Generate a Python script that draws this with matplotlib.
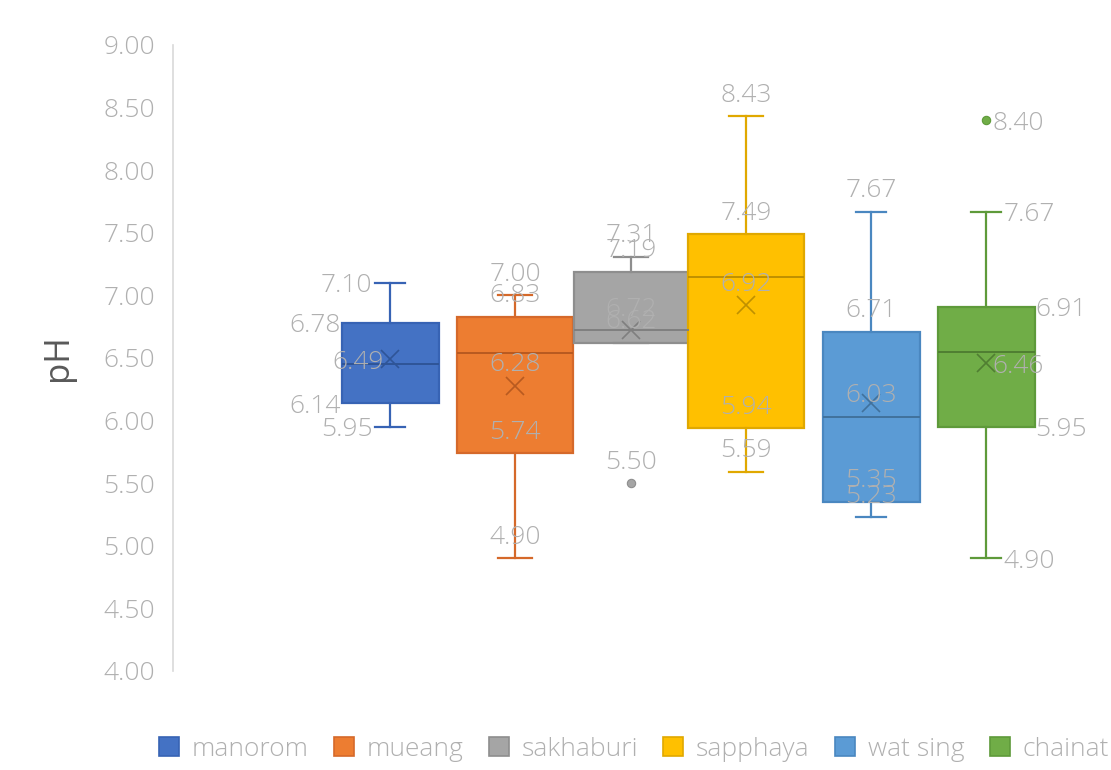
import matplotlib

matplotlib.use("Agg")
import matplotlib.pyplot as plt
from matplotlib.patches import Patch

# Data (pH by district).
names = ["manorom", "mueang", "sakhaburi", "sapphaya", "wat sing", "chainat"]
mins = [5.95, 4.90, 6.62, 5.59, 5.23, 4.90]
q1s = [6.14, 5.74, 6.62, 5.94, 5.35, 5.95]
medians = [6.45, 6.54, 6.72, 7.15, 6.03, 6.55]
q3s = [6.78, 6.83, 7.19, 7.49, 6.71, 6.91]
maxs = [7.10, 7.00, 7.31, 8.43, 7.67, 7.67]
means = [6.49, 6.28, 6.72, 6.92, 6.14, 6.46]
outliers = [[], [], [5.50], [], [], [8.40]]
# which stats carry a data label
labelled = [
    ["whishi", "q3", "mean", "q1", "whislo"],
    ["whishi", "q3", "mean", "q1", "whislo"],
    ["whishi", "q3", "med", "q1", "fliers"],
    ["whishi", "q3", "mean", "q1", "whislo"],
    ["whishi", "q3", "med", "q1", "whislo"],
    ["fliers", "whishi", "q3", "mean", "q1", "whislo"],
]
yticks = [4.0, 4.5, 5.0, 5.5, 6.0, 6.5, 7.0, 7.5, 8.0, 8.5, 9.0]

# Layout (x in pixels of the 1111 px wide figure).
centers = [390, 515, 631, 746, 871, 986]
widths = [97, 116, 115, 116, 97, 97]
label_side = ["left", "above", "above", "above", "above", "right"]

FILL = ["#4472C4", "#ED7D31", "#A5A5A5", "#FFC000", "#5B9BD5", "#70AD47"]
EDGE = ["#3763B4", "#D5692A", "#8E8E8E", "#E0A800", "#4A87C0", "#5E9A3A"]
DARK = ["#2F5597", "#B85A20", "#7F7F7F", "#BF9000", "#41719C", "#507E32"]
LABEL = "#B0B0B0"
FS = 19
FONT = ["Open Sans", "DejaVu Sans"]

plt.rcParams["font.family"] = FONT

fig = plt.figure(figsize=(11.11, 7.70), dpi=100)
ax = fig.add_axes([173 / 1111, 1 - 671 / 770, (1111 - 173) / 1111, 626 / 770])
ax.set_xlim(173, 1111)
ax.set_ylim(4.0, 9.0)

stats = []
for i, n in enumerate(names):
    stats.append(dict(label=n, whislo=mins[i], q1=q1s[i], med=medians[i], q3=q3s[i],
                      whishi=maxs[i], mean=means[i], fliers=outliers[i]))

for i, s in enumerate(stats):
    ax.bxp([s], positions=[centers[i]], widths=[widths[i]], capwidths=[widths[i] * 0.3],
           showmeans=True, patch_artist=True, manage_ticks=False,
           boxprops=dict(facecolor=FILL[i], edgecolor=EDGE[i], lw=1.6),
           medianprops=dict(color=DARK[i], lw=1.4),
           whiskerprops=dict(color=EDGE[i], lw=1.6),
           capprops=dict(color=EDGE[i], lw=1.6),
           meanprops=dict(marker="x", markersize=13, markeredgecolor=DARK[i], markeredgewidth=1.2),
           flierprops=dict(marker="o", markersize=6, markerfacecolor=FILL[i],
                           markeredgecolor=EDGE[i], markeredgewidth=0.8))

    # data labels
    cx, w = centers[i], widths[i]
    for key in labelled[i]:
        vals = s[key] if key == "fliers" else [s[key]]
        for v in vals:
            txt = f"{v:.2f}"
            side = label_side[i]
            if side == "above":
                ax.annotate(txt, (cx, v), xytext=(0, 21), textcoords="offset pixels",
                            ha="center", va="center", color=LABEL, fontsize=FS, fontweight="light")
            else:
                if key in ("q1", "q3"):
                    half = w / 2 + 1
                elif key in ("whishi", "whislo"):
                    half = w * 0.15 + 3
                else:
                    half = 6
                if side == "left":
                    x, ha = cx - half, "right"
                else:
                    x, ha = cx + half, "left"
                ax.annotate(txt, (x, v), xytext=(0, -3), textcoords="offset pixels",
                            ha=ha, va="center", color=LABEL, fontsize=FS, fontweight="light")

for sp in ["top", "right", "bottom"]:
    ax.spines[sp].set_visible(False)
ax.spines["left"].set_color("#D9D9D9")
ax.spines["left"].set_linewidth(1.2)
ax.set_xticks([])
ax.set_yticks(yticks)
ax.set_yticklabels([f"{t:.2f}" for t in yticks])
ax.tick_params(axis="y", length=0, pad=13, labelsize=FS, labelcolor=LABEL)
for lab in ax.get_yticklabels():
    lab.set_fontweight("light")
ax.set_ylabel("pH", fontsize=25, color="#595959", labelpad=20)

handles = [Patch(facecolor=FILL[i], edgecolor=EDGE[i], lw=1.2, label=n) for i, n in enumerate(names)]
leg = fig.legend(handles=handles, loc="center", bbox_to_anchor=(634 / 1111, 1 - 749 / 770), ncol=6,
                 frameon=False, fontsize=FS, handlelength=0.75, handleheight=0.75,
                 handletextpad=0.5, columnspacing=0.95)
for t in leg.get_texts():
    t.set_color(LABEL)
    t.set_fontweight("light")

fig.savefig("out.png", dpi=100, facecolor="white")
